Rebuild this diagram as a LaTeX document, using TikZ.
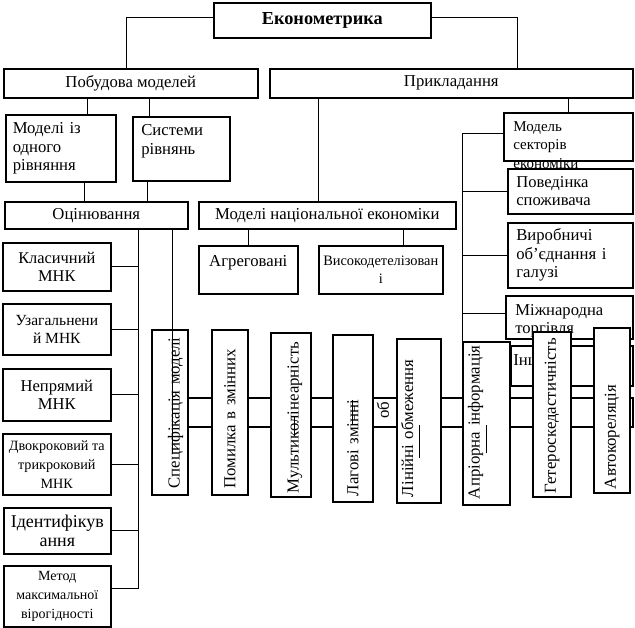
\documentclass[tikz,border=0pt]{standalone}
\usepackage{fontspec}
\setmainfont{Liberation Serif}

\begin{document}
\begin{tikzpicture}[x=1pt, y=-1pt, line width=0.8pt,
  box/.style={draw, line width=1.6pt, fill=white, inner sep=2pt, anchor=north west,
    align=center, font=\fontsize{16.7}{18.5}\selectfont},
  vbox/.style={box, anchor=center, rotate=90, align=left, font=\fontsize{16.8}{18}\selectfont},
  small/.style={font=\fontsize{15}{18.5}\selectfont}]

\useasboundingbox (0,0) rectangle (635,627);

% Top level
\node[box, minimum width=217, minimum height=35, font=\fontsize{18.3}{20}\selectfont\bfseries] (ekon) at (213,2) {Економетрика};
\node[box, minimum width=254, minimum height=29] (pobud) at (3,68) {Побудова моделей};
\node[box, minimum width=363, minimum height=29] (prykl) at (269,68) {Прикладання};

% Model building
\node[box, minimum width=110, minimum height=67, align=left, text width=96] (odne) at (5,114) {Моделі із\\одного\\рівняння};
\node[box, minimum width=97, minimum height=64, align=left, text width=80] (system) at (132,116) {Системи\\рівнянь\\\mbox{}};
\node[box, minimum width=183, minimum height=27] (ocin) at (4,201) {Оцінювання};

% Estimation methods
\node[box, minimum width=108, minimum height=48, font=\fontsize{16.4}{18}\selectfont] (klas) at (2,242) {Класичний\\МНК};
\node[box, minimum width=108, minimum height=51, font=\fontsize{15.5}{18}\selectfont] (uzag) at (2,303) {Узагальнени\\й МНК};
\node[box, minimum width=108, minimum height=52, font=\fontsize{16.6}{18}\selectfont] (nepr) at (2,368) {Непрямий\\МНК};
\node[box, minimum width=108, minimum height=61, font=\fontsize{14.2}{19}\selectfont] (dvok) at (2,433) {Двокроковий та\\трикроковий\\МНК};
\node[box, minimum width=107, minimum height=46, font=\fontsize{18}{19}\selectfont] (ident) at (3,507) {Ідентифікув\\ання};
\node[box, minimum width=107, minimum height=61, font=\fontsize{14}{19}\selectfont] (metod) at (3,565) {Метод\\максимальної\\вірогідності};

% Applications
\node[box, minimum width=257, minimum height=27] (nacek) at (198,201) {Моделі національної економіки};
\node[box, minimum width=99, minimum height=48] (agreg) at (198,245) {Агреговані\\\mbox{}};
\node[box, minimum width=124, minimum height=48, font=\fontsize{14.4}{18}\selectfont] (vysok) at (318,245) {Високодетелізован\\і};

% Right column
\node[box, minimum width=129, minimum height=48] (sekt) at (503,112) {};
\node[small, anchor=north west, align=left, inner sep=0] (sekttxt) at ([shift={(10,9)}]sekt.north west) {Модель\\секторів\\економіки};
\node[box, minimum width=125, minimum height=45, align=left, text width=108, font=\fontsize{16.6}{17.5}\selectfont] (povid) at (507,168) {Поведінка\\споживача};
\node[box, minimum width=125, minimum height=65, align=left, text width=108] (vyrob) at (507,222) {Виробничі\\об’єднання і\\галузі};
\node[box, minimum width=127, minimum height=43] (mizh) at (505,295) {};
\node[anchor=north west, align=left, inner sep=0, font=\fontsize{16.6}{18}\selectfont] (mizhtxt) at ([shift={(10,9)}]mizh.north west) {Міжнародна\\торгівля};
\node[box, minimum width=122, minimum height=40] (insh) at (510,345) {};
\node[anchor=north west, inner sep=0, font=\fontsize{16.7}{18}\selectfont] (inshtxt) at ([shift={(3,9)}]insh.north west) {Інші};

% Problems (box behind)
\node[box, minimum width=477, minimum height=29] (prob) at (155,397) {};
\node[rotate=90, inner sep=0, font=\fontsize{16.8}{18}\selectfont] (probtxt) at (383,410) {об};

% Problem boxes, text rotated
\node[vbox, minimum width=165, minimum height=36, text width=152] (spec) at (170,412.5) {\raisebox{-6pt}[11pt][4pt]{Специфікація моделі}};
\node[vbox, minimum width=165, minimum height=36, text width=152] (pomyl) at (230,412.5) {Помилка в змінних};
\node[vbox, minimum width=164, minimum height=40, text width=156] (multy) at (291,415) {\raisebox{-4pt}[11pt][4pt]{Мультиколінеарність}};
\node[vbox, minimum width=167, minimum height=40, text width=155] (lag) at (353,418.5) {Лагові змінні};
\node[vbox, minimum width=164, minimum height=44, text width=152] (lin) at (419,421) {\raisebox{9.5pt}[11pt][4pt]{Лінійні обмеження}};
\node[vbox, minimum width=163, minimum height=47, text width=151] (apr) at (486.5,423.5) {\raisebox{10.5pt}[11pt][4pt]{Апріорна інформація}};
\node[vbox, minimum width=165, minimum height=38, text width=157] (geter) at (552,414.5) {Гетероскедастичність};
\node[vbox, minimum width=165, minimum height=36, text width=157] (avto) at (612,410.5) {Автокореляція};

% Connectors
\draw ([yshift=2.5]ekon.west) -| ([xshift=-4]pobud.north);
\draw ([yshift=2.5]ekon.east) -| ([xshift=66.5]prykl.north);

\coordinate (c1) at ([xshift=27]odne.north);
\draw (c1) -- (c1 |- pobud.south);
\coordinate (c2) at ([xshift=-31.5]system.north);
\draw (c2) -- (c2 |- pobud.south);
\coordinate (c3) at ([xshift=24]odne.south);
\draw (c3) -- (c3 |- ocin.north);
\coordinate (c4) at ([xshift=-33.5]system.south);
\draw (c4) -- (c4 |- ocin.north);

\coordinate (c5) at ([xshift=-8.5]nacek.north);
\draw (c5) -- (c5 |- prykl.south);
\draw (prykl.south -| sekt.north) -- (sekt.north);
\draw (agreg.north) -- (agreg.north |- nacek.south);
\coordinate (c6) at ([xshift=23]vysok.north);
\draw (c6) -- (c6 |- nacek.south);

% left trunk
\coordinate (otrunk) at ([xshift=42.5]ocin.south);
\draw (otrunk) |- ([yshift=7.5]metod.east);
\foreach \n in {klas,uzag,nepr,dvok,ident}
  \draw (\n.east) -- (\n.east -| otrunk);

% right trunk (apr.north east is the top left corner of the rotated box)
\draw ([yshift=3]sekt.west) -| (apr.north east);
\foreach \n in {povid,vyrob}
  \draw (\n.west) -- (\n.west -| apr.north east);
\draw ([yshift=3.5]mizh.west) -- ([yshift=3.5]mizh.west -| apr.north east);

% line into the first problem box (spec.east is its top)
\coordinate (c7) at ([xshift=2]spec.east);
\draw (c7 |- ocin.south) -- ([yshift=-125]c7);

% stray strokes
\draw ([shift={(3,1)}]multy.center) -- ++(0,20);
\draw ([shift={(-1,-18.5)}]lag.center) -- ++(0,25);
\draw ([shift={(0,4)}]lin.center) -- ++(0,33);
\draw ([shift={(0,1.5)}]apr.center) -- ++(0,28);

\end{tikzpicture}
\end{document}
